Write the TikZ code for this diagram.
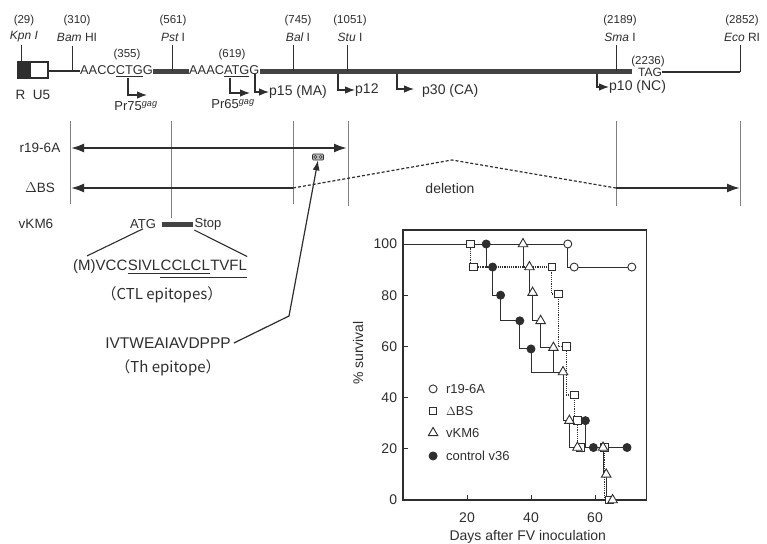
\documentclass[tikz,border=0pt]{standalone}
\usepackage{fontspec}
\setmainfont{Liberation Sans}
\newfontfamily\jpfont{Noto Sans CJK JP}
\usetikzlibrary{arrows.meta,shapes.geometric}
\definecolor{ink}{gray}{0.18}
\definecolor{rulec}{gray}{0.5}
\begin{document}
\begin{tikzpicture}[x=1pt,y=-1pt,
  every node/.style={text=ink,inner sep=0pt},
  fs/.style={font=\fontsize{#1}{#1}\selectfont},
  num/.style={fs=11.5},
  site/.style={fs=12},
  seqt/.style={fs=12.8},
  plab/.style={fs=14},
  rowlab/.style={fs=13.5},
  thinl/.style={draw=ink,line width=1.3pt},
  gbar/.style={draw=ink!90,line width=5pt},
  tickl/.style={draw=ink,line width=1pt},
  prom/.style={draw=ink,line width=1.1pt,-{Latex[length=10pt,width=7.5pt]}},
  vguide/.style={draw=rulec,line width=0.9pt},
  bigarr/.style={draw=ink,line width=2pt},
  mko/.style={circle,draw=ink,fill=white,line width=0.9pt,minimum size=8pt},
  mkf/.style={circle,draw=ink,fill=ink,line width=0.9pt,minimum size=8pt},
  mks/.style={rectangle,draw=ink,fill=white,line width=0.9pt,minimum size=7.5pt},
  mkt/.style={regular polygon,regular polygon sides=3,draw=ink,fill=white,line width=0.9pt,minimum size=11pt},
  curve/.style={draw=ink,line width=1pt},
  dcurve/.style={draw=ink,line width=1.2pt,densely dotted}
]
\useasboundingbox[fill=white] (0,0) rectangle (767,543);

% ---------------- gene map ----------------
\fill[ink] (18,62) rectangle (31,78);
\draw[ink,line width=1.2pt] (18,62) rectangle (48,78);
\node[rowlab] (ru5) at (33,95) {R\ \ U5};
\coordinate (bx) at (48,71);
\node[seqt,anchor=west] (s355) at (80,71) {AACC\underline{CTG}G};
\node[seqt,anchor=west] (s619) at (189,71) {AAAC\underline{ATG}G};
\draw[thinl] (bx) -- (s355.west);
\draw[gbar] (s355.east) -- (s619.west);
\coordinate (barend) at (632,71);
\draw[gbar] (s619.east) -- (barend);
\node[site] (tag) at (650,72) {TAG};
\node[num] (n2236) at (648,62) {(2236)};
\coordinate (eco) at (740,72);
\draw[thinl] (tag.east) -- (eco);
\node[num] (n355) at (127,55) {(355)};
\node[num] (n619) at (232,55) {(619)};

% restriction sites
\foreach \nm/\x/\y/\n/\lab in {kpn/24/62/(29)/{\itshape Kpn I},
    bam/77/71/(310)/{{\itshape Bam} HI},
    pst/173/71/(561)/{{\itshape Pst} I},
    bal/298/71/(745)/{{\itshape Bal} I},
    stu/350/71/(1051)/{{\itshape Stu} I},
    sma/620/71/(2189)/{{\itshape Sma} I},
    eco/742/72/(2852)/{{\itshape Eco} RI}}{
  \node[num] (\nm n) at (\x,21) {\n};
  \node[site] (\nm l) at (\x,37) {\lab};
}
\draw[tickl] (21,45) -- (21,62);
\draw[tickl] (72,46) -- (72,71);
\draw[tickl] (172,45) -- (172,71);
\draw[tickl] (293,45) -- (293,71);
\draw[tickl] (347,45) -- (347,71);
\draw[tickl] (616,45) -- (616,71);
\draw[tickl] (740,45) -- (740,72);

% promoters / products
\node[fs=13,anchor=north] (pr75) at (136,101) {Pr75\textsuperscript{\itshape gag}};
\node[fs=13,anchor=north] (pr65) at (233,99) {Pr65\textsuperscript{\itshape gag}};
\node[plab,anchor=west] (p15) at (269,92) {p15 (MA)};
\node[plab,anchor=west] (p12) at (355,90) {p12};
\node[plab,anchor=west] (p30) at (422,91) {p30 (CA)};
\node[plab,anchor=west] (p10) at (609,87) {p10 (NC)};
\draw[prom] (128,78) |- (147,95);
\draw[prom] (230,78) |- (250,93);
\draw[prom] (255,74) |- (p15.west);
\draw[prom] (338,74) |- (p12.west);
\draw[prom] (397,74) |- (414,89);
\draw[prom] (597,74) |- (p10.west);

% ---------------- constructs ----------------
\draw[vguide] (70,121) -- (70,204);
\draw[vguide] (171,121) -- (171,218);
\draw[vguide] (293,121) -- (293,204);
\draw[vguide] (348,121) -- (348,206);
\draw[vguide] (616,121) -- (616,206);
\draw[vguide] (740,121) -- (740,206);

\node[rowlab] (lr19) at (40,148) {r19-6A};
\node[rowlab] (lbs) at (40,188) {$\Delta$BS};
\node[rowlab] (lvkm) at (36,224) {vKM6};

\coordinate (r1) at (71,148);
\coordinate (r2) at (347,148);
\draw[bigarr,{Latex[length=13pt,width=9pt]}-{Latex[length=13pt,width=9pt]}] (r1) -- (r2);

\coordinate (d1) at (71,188);
\coordinate (d2) at (293,188);
\coordinate (d3) at (452,160);
\coordinate (d4) at (616,188);
\coordinate (d5) at (740,188);
\draw[bigarr,{Latex[length=13pt,width=9pt]}-] (d1) -- (d2);
\draw[ink,line width=1.2pt,densely dashed] (d2) -- (d3) -- (d4);
\draw[bigarr,-{Latex[length=13pt,width=9pt]}] (d4) -- (d5);
\node[plab] (del) at (450,188) {deletion};

\node[draw=ink,fill=gray!50,rounded corners=1pt,minimum width=11pt,minimum height=6pt,line width=0.7pt] (tbox) at (318,157) {};
\draw[ink,line width=0.5pt] (315.3,157) circle (1.6pt) (320.7,157) circle (1.6pt);

% vKM6 minigene
\node[fs=13] (atg) at (143,224) {ATG};
\node[fs=13] (stop) at (208,224) {Stop};
\draw[gbar] (162,224) -- (193,224);

\node[fs=15,anchor=base west] (sa) at (73,270) {(M)VCC};
\node[fs=15,anchor=base west] (sb) at (sa.base east) {SIVL};
\node[fs=15,anchor=base west] (sc) at (sb.base east) {CCLCL};
\node[fs=15,anchor=base west] (sd) at (sc.base east) {TVFL};
\draw[ink,line width=1.1pt] ([yshift=-3.5pt]sb.base west) -- ([yshift=-3.5pt]sc.base east);
\draw[ink,line width=1.1pt] ([yshift=-7.5pt]sc.base west) -- ([yshift=-7.5pt]sd.base east);
\draw[ink,line width=1.1pt] (atg.south) -- ([xshift=14pt,yshift=3pt]sa.north west);
\draw[ink,line width=1.1pt] (stop.south west) -- ([yshift=3pt]sd.north east);

\node[fs=15] (ctl) at (162,295) {\jpfont （CTL epitopes）};
\node[fs=15.5] (th) at (168,343) {IVTWEAIAVDPPP};
\node[fs=15] (thl) at (168,368) {\jpfont （Th epitope）};
\coordinate (thb) at (289,316);
\draw[ink,line width=1.2pt,-{Latex[length=10pt,width=7pt]}] ([xshift=3pt]th.east) -- (thb) -- (tbox.south);

% ---------------- survival plot ----------------
\begin{scope}[shift={(403,500)},x=3.2pt,y=2.56pt]
  \draw[ink,line width=1.2pt] (0,0) rectangle (76.2,105.5);
  \foreach \v in {0,20,40,60,80,100}{
    \draw[ink,line width=1pt] (0,\v) -- (1.6,\v);
    \node[plab,anchor=east] (yl\v) at (-1.8,\v) {\v};
  }
  \foreach \d in {20,40,60}{
    \draw[ink,line width=1pt] (\d,0) -- (\d,2);
    \node[plab] (xl\d) at (\d,-7) {\d};
  }
  \node[plab] (xt) at (39,-14.5) {Days after FV inoculation};
  \node[plab,rotate=90] (yt) at (-14,57.4) {\% survival};

  % curves
  \draw[curve] (0,100) -- (51.5,100) |- (53.5,91) -- (71.5,91);
  \draw[curve] (26,100) |- (28,91) |- (30.5,80) |- (36.5,70) |- (40,59) |- (50,50) |- (57,31) |- (59.5,20.5) -- (70,20.5);
  \draw[curve] (37.5,100) |- (39.5,91) |- (40.5,81) |- (43,70) |- (47,59.5) |- (50,50) |- (52,31) |- (54.5,20.5) -- (62.5,20.5) |- (63.5,10) |- (65.5,0);
  \draw[dcurve] (21,100) |- (22,91) -- (46.5,91) |- (48.5,80.5) |- (51,60) |- (53.5,41) |- (54.5,31) |- (55.5,20.5) -- (63,20.5) |- (64.5,0);

  \foreach \d/\v [count=\i] in {21/100,22/91,46.5/91,48.5/80.5,51/60,53.5/41,54.5/31,55.5/20.5,63/20.5,64.5/0}
    \node[mks] (sq\i) at (\d,\v) {};
  \foreach \d/\v [count=\i] in {37.5/100,39.5/91,40.5/81,43/70,47/59.5,50/50,52/31,54.5/20.5,62.5/20.5,63.5/10,65.5/0}
    \node[mkt] (tr\i) at (\d,\v) {};
  \foreach \d/\v [count=\i] in {26/100,28/91,30.5/80,36.5/70,40/59,57/31,59.5/20.5,70/20.5}
    \node[mkf] (fc\i) at (\d,\v) {};
  \foreach \d/\v [count=\i] in {51.5/100,53.5/91,71.5/91}
    \node[mko] (oc\i) at (\d,\v) {};

  % legend
  \node[mko] (lg1) at (9.4,43.4) {};
  \node[mks] (lg2) at (9.4,34.8) {};
  \node[mkt] (lg3) at (9.4,26.2) {};
  \node[mkf] (lg4) at (9.4,17.2) {};
  \node[fs=13,anchor=west] (lt1) at (13.4,43.4) {r19-6A};
  \node[fs=13,anchor=west] (lt2) at (13.4,34.8) {$\Delta$BS};
  \node[fs=13,anchor=west] (lt3) at (13.4,26.2) {vKM6};
  \node[fs=13,anchor=west] (lt4) at (13.4,17.2) {control v36};
\end{scope}
\end{tikzpicture}
\end{document}
